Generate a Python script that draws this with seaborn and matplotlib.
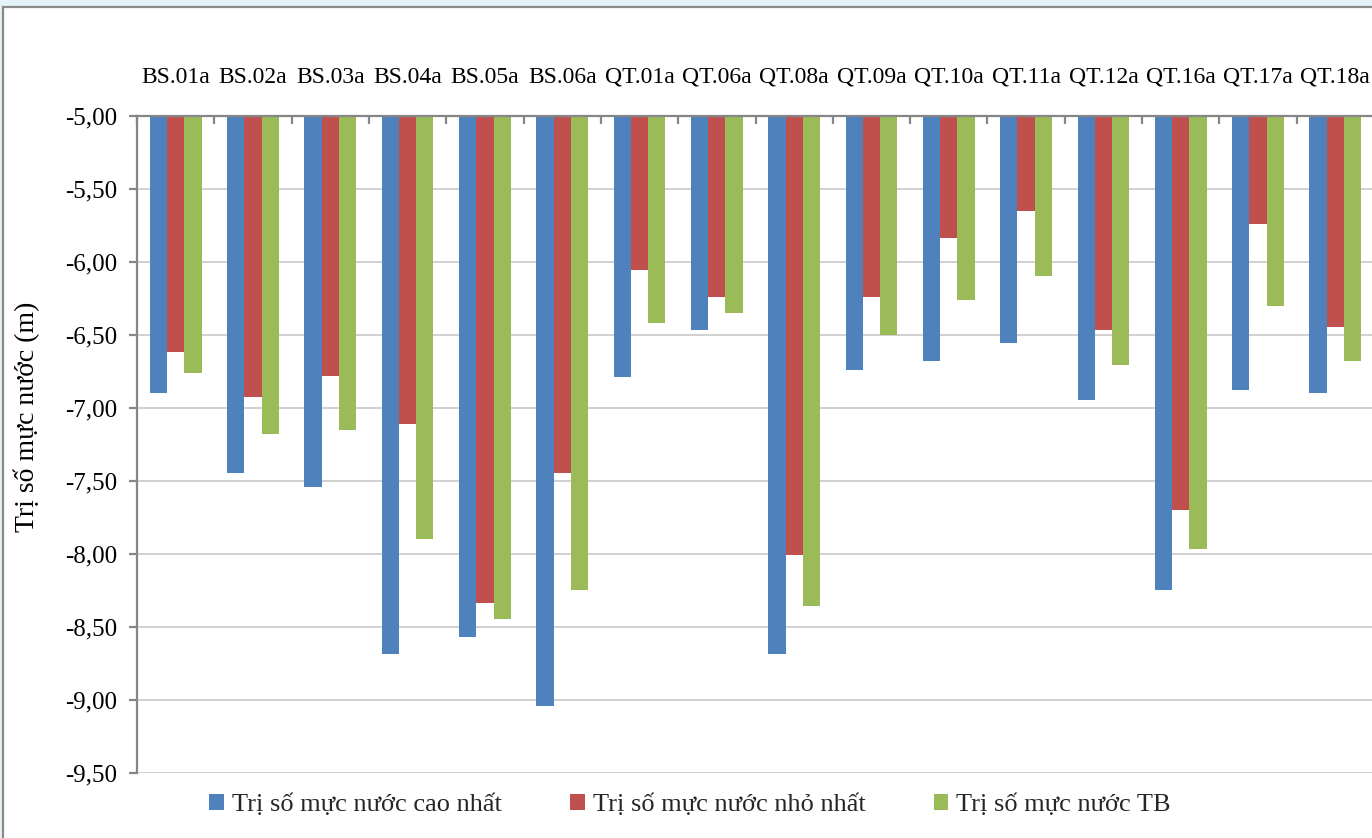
import numpy as np
import pandas as pd
import matplotlib
matplotlib.use("Agg")
import matplotlib.pyplot as plt
import seaborn as sns
from matplotlib.patches import Rectangle
from matplotlib.ticker import FixedLocator, FuncFormatter

# Monitoring wells
stations = ["BS.01a", "BS.02a", "BS.03a", "BS.04a", "BS.05a", "BS.06a",
            "QT.01a", "QT.06a", "QT.08a", "QT.09a", "QT.10a", "QT.11a",
            "QT.12a", "QT.16a", "QT.17a", "QT.18a"]

# Water level readings (m)
highest = [-6.90, -7.45, -7.54, -8.69, -8.57, -9.04, -6.79, -6.47,
           -8.69, -6.74, -6.68, -6.56, -6.95, -8.25, -6.88, -6.90]
lowest = [-6.62, -6.93, -6.78, -7.11, -8.34, -7.45, -6.06, -6.24,
          -8.01, -6.24, -5.84, -5.65, -6.47, -7.70, -5.74, -6.45]
average = [-6.76, -7.18, -7.15, -7.90, -8.45, -8.25, -6.42, -6.35,
           -8.36, -6.50, -6.26, -6.10, -6.71, -7.97, -6.30, -6.68]

series_names = ["Trị số mực nước cao nhất", "Trị số mực nước nhỏ nhất",
                "Trị số mực nước TB"]
colors = ["#4F81BD", "#C0504D", "#9BBB59"]
y_ticks = [-9.5, -9.0, -8.5, -8.0, -7.5, -7.0, -6.5, -6.0, -5.5, -5.0]
y_title = "Trị số mực nước (m)"

df = pd.DataFrame({
    "station": stations * 3,
    "series": np.repeat(series_names, len(stations)),
    "value": highest + lowest + average,
})

sns.set_theme(style="white")
plt.rcParams["font.family"] = ["Liberation Serif", "DejaVu Serif"]

W, H = 1372, 838
fig = plt.figure(figsize=(W / 100, H / 100), dpi=100)
fig.patch.set_facecolor("#E6F2F9")

# chart frame
frame = Rectangle((3.5 / W, -0.05), 1.1, (1 - 7 / H) + 0.05,
                  transform=fig.transFigure, facecolor="white",
                  edgecolor="#8A8A8A", linewidth=1.6, zorder=0)
fig.add_artist(frame)

ax = fig.add_axes([137 / W, (H - 772.7) / H, 1237 / W, 657 / H])
ax.set_facecolor("white")

sns.barplot(data=df, x="station", y="value", hue="series", palette=colors,
            width=0.67, saturation=1, errorbar=None, linewidth=0, ax=ax)

ax.set_ylim(-9.5, -5.0)
ax.set_xlim(-0.5, len(stations) - 0.5)
ax.set_yticks(y_ticks)
ax.yaxis.set_major_formatter(FuncFormatter(lambda v, p: f"{v:.2f}".replace(".", ",")))
ax.set_axisbelow(True)
ax.yaxis.grid(True, color="#C4C4C4", linewidth=1.1)
ax.xaxis.grid(False)

for side in ["right", "bottom"]:
    ax.spines[side].set_visible(False)
for side in ["top", "left"]:
    ax.spines[side].set_color("#868686")
    ax.spines[side].set_linewidth(1.6)

# category labels along the top edge, boundary ticks pointing inward
ax.xaxis.tick_top()
ax.xaxis.set_minor_locator(FixedLocator(np.arange(-0.5, len(stations), 1.0)))
ax.tick_params(axis="x", which="major", length=0, pad=20, labelsize=17,
               labelcolor="black")
ax.tick_params(axis="x", which="minor", direction="in", length=6,
               width=1.6, color="#868686", top=True, bottom=False)
ax.tick_params(axis="y", which="major", direction="out", length=6,
               width=1.6, color="#868686", pad=8, labelsize=18,
               labelcolor="black", left=True)
ax.set_xlabel("")
ax.set_ylabel("")

fig.text(27 / W, 1 - 417 / H, y_title, rotation=90, ha="center",
         va="center", fontsize=20, color="black")

handles, labels = ax.get_legend_handles_labels()
ax.get_legend().remove()
fig.legend(handles, labels, loc="center", bbox_to_anchor=(690 / W, 1 - 805 / H),
           ncol=3, frameon=False, fontsize=19, handlelength=0.55,
           handleheight=0.55, handletextpad=0.3, columnspacing=2.6)

fig.savefig("out.png", dpi=100, facecolor=fig.get_facecolor())
